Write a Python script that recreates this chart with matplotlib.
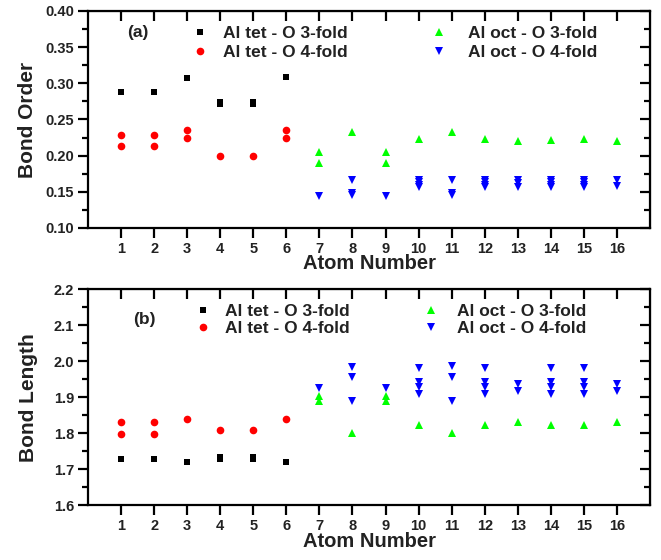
import matplotlib
matplotlib.use("Agg")
import matplotlib.pyplot as plt

plt.rcParams['font.family'] = ['Liberation Sans', 'DejaVu Sans']
plt.rcParams['font.weight'] = 'bold'
plt.rcParams['axes.labelweight'] = 'bold'
TEXT = '#222222'

atoms = list(range(1, 17))

# (a) bond order
order_tet3_atom = [1, 2, 3, 4, 4, 5, 5, 6]
order_tet3 = [0.288, 0.288, 0.308, 0.272, 0.274, 0.272, 0.274, 0.309]
order_tet4_atom = [1, 1, 2, 2, 3, 3, 4, 5, 6, 6]
order_tet4 = [0.228, 0.213, 0.228, 0.213, 0.235, 0.224, 0.199, 0.200, 0.235, 0.224]
order_oct3_atom = [7, 7, 8, 9, 9, 10, 11, 12, 13, 14, 15, 16]
order_oct3 = [0.205, 0.190, 0.233, 0.205, 0.190, 0.223, 0.232, 0.223, 0.220, 0.222, 0.223, 0.220]
order_oct4_atom = [7, 8, 8, 8, 9, 10, 10, 10, 10, 11, 11, 11, 12, 12, 12, 12,
                   13, 13, 13, 14, 14, 14, 14, 15, 15, 15, 15, 16, 16]
order_oct4 = [0.144, 0.166, 0.149, 0.145, 0.144,
              0.166, 0.163, 0.159, 0.156,
              0.166, 0.149, 0.145,
              0.166, 0.163, 0.159, 0.156,
              0.166, 0.162, 0.157,
              0.166, 0.163, 0.159, 0.156,
              0.166, 0.163, 0.159, 0.156,
              0.166, 0.158]

# (b) bond length
len_tet3_atom = [1, 2, 3, 4, 4, 5, 5, 6]
len_tet3 = [1.729, 1.729, 1.720, 1.728, 1.733, 1.728, 1.733, 1.720]
len_tet4_atom = [1, 1, 2, 2, 3, 4, 5, 6]
len_tet4 = [1.832, 1.798, 1.832, 1.798, 1.838, 1.809, 1.809, 1.838]
len_oct3_atom = [7, 7, 8, 9, 9, 10, 11, 12, 13, 14, 15, 16]
len_oct3 = [1.903, 1.890, 1.799, 1.903, 1.890, 1.823, 1.799, 1.823, 1.832, 1.823, 1.823, 1.832]
len_oct4_atom = [7, 8, 8, 8, 9, 10, 10, 10, 10, 11, 11, 11, 12, 12, 12, 12,
                 13, 13, 14, 14, 14, 14, 15, 15, 15, 15, 16, 16]
len_oct4 = [1.925, 1.985, 1.955, 1.889, 1.925,
            1.980, 1.943, 1.929, 1.909,
            1.987, 1.956, 1.889,
            1.980, 1.943, 1.929, 1.909,
            1.936, 1.917,
            1.980, 1.943, 1.929, 1.909,
            1.980, 1.943, 1.929, 1.909,
            1.936, 1.917]

labels = ['Al tet - O 3-fold', 'Al tet - O 4-fold', 'Al oct - O 3-fold', 'Al oct - O 4-fold']
styles = [('s', 'black', 5), ('o', 'red', 5.5), ('^', '#00ff00', 5.5), ('v', 'blue', 5.5)]


def style_axes(ax, ylim, yticks, fmt, minor_step):
    ax.set_xlim(0, 17)
    ax.set_ylim(*ylim)
    ax.set_xticks(atoms)
    ax.set_yticks(yticks)
    ax.set_yticklabels([fmt.format(v) for v in yticks])
    ax.yaxis.set_minor_locator(matplotlib.ticker.MultipleLocator(minor_step))
    for s in ax.spines.values():
        s.set_linewidth(1.6)
    ax.tick_params(which='both', direction='out', width=1.6, labelsize=10.5,
                   labelcolor=TEXT, pad=3)
    ax.tick_params(which='major', length=7)
    ax.tick_params(which='minor', length=4)
    # mirrored ticks pointing inwards on top and right
    top = ax.secondary_xaxis('top')
    top.set_xticks(atoms)
    top.tick_params(direction='in', length=7, width=1.6, labeltop=False)
    right = ax.secondary_yaxis('right')
    right.set_yticks(yticks)
    right.yaxis.set_minor_locator(matplotlib.ticker.MultipleLocator(minor_step))
    right.tick_params(which='both', direction='in', width=1.6, labelright=False)
    right.tick_params(which='major', length=7)
    right.tick_params(which='minor', length=4)
    ax.set_xlabel('Atom Number', fontsize=14.5, color=TEXT, labelpad=-1)


def add_legends(ax, handles, x1, x2, y, pad1, pad2, spacing):
    leg1 = ax.legend(handles[:2], labels[:2], loc='center left', bbox_to_anchor=(x1, y),
                     frameon=False, borderpad=0, borderaxespad=0, handlelength=1.0,
                     handletextpad=pad1, labelspacing=spacing, fontsize=12.5,
                     labelcolor=TEXT)
    ax.add_artist(leg1)
    ax.legend(handles[2:], labels[2:], loc='center left', bbox_to_anchor=(x2, y),
              frameon=False, borderpad=0, borderaxespad=0, handlelength=1.0,
              handletextpad=pad2, labelspacing=spacing, fontsize=12.5,
              labelcolor=TEXT)


fig = plt.figure(figsize=(6.61, 5.6), dpi=100)
ax1 = fig.add_axes([0.1331, 0.5929, 0.8503, 0.3875])
ax2 = fig.add_axes([0.1331, 0.0982, 0.8503, 0.3852])

handles = []
for (m, c, ms), xs, ys in zip(styles,
                               [order_tet3_atom, order_tet4_atom, order_oct3_atom, order_oct4_atom],
                               [order_tet3, order_tet4, order_oct3, order_oct4]):
    h, = ax1.plot(xs, ys, linestyle='none', marker=m, color=c, markersize=ms,
                  markeredgewidth=0)
    handles.append(h)
style_axes(ax1, (0.10, 0.40), [0.10, 0.15, 0.20, 0.25, 0.30, 0.35, 0.40], '{:.2f}', 0.025)
ax1.set_ylabel('Bond Order', fontsize=15, color=TEXT, labelpad=6)
ax1.text(0.069, 0.899, '(a)', transform=ax1.transAxes, fontsize=12.5, color=TEXT,
         ha='left', va='center')
add_legends(ax1, handles, 0.183, 0.609, 0.853, 0.85, 1.15, 0.25)

handles = []
for (m, c, ms), xs, ys in zip(styles,
                               [len_tet3_atom, len_tet4_atom, len_oct3_atom, len_oct4_atom],
                               [len_tet3, len_tet4, len_oct3, len_oct4]):
    h, = ax2.plot(xs, ys, linestyle='none', marker=m, color=c, markersize=ms,
                  markeredgewidth=0)
    handles.append(h)
style_axes(ax2, (1.6, 2.2), [1.6, 1.7, 1.8, 1.9, 2.0, 2.1, 2.2], '{:.1f}', 0.05)
ax2.set_ylabel('Bond Length', fontsize=15, color=TEXT, labelpad=11)
ax2.text(0.080, 0.862, '(b)', transform=ax2.transAxes, fontsize=12.5, color=TEXT,
         ha='left', va='center')
add_legends(ax2, handles, 0.190, 0.594, 0.856, 0.75, 1.05, 0.1)

fig.savefig('out.png', dpi=100)
